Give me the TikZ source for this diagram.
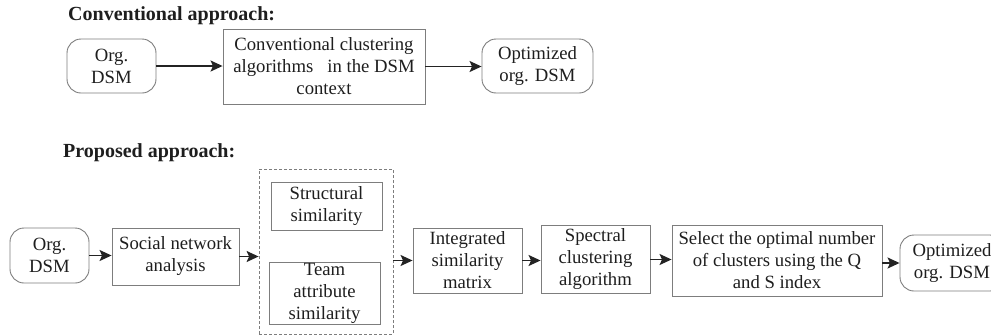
\documentclass[tikz,border=0pt]{standalone}
\usepackage{fontspec}
\setmainfont{Liberation Serif}
\usetikzlibrary{arrows.meta}
\definecolor{boxgray}{RGB}{125,125,125}
\definecolor{txt}{RGB}{30,30,30}
\definecolor{arrcol}{RGB}{35,35,35}
\begin{document}
\begin{tikzpicture}[x=1pt,y=-1pt,
  every node/.style={font=\fontsize{18.7}{22}\selectfont, text=txt, align=center, inner sep=0pt},
  box/.style n args={2}{draw=boxgray, line width=0.9pt, minimum width=#1, minimum height=#2},
  rbox/.style n args={2}{box={#1}{#2}, rounded corners=14pt},
  dbox/.style n args={2}{draw=boxgray, line width=0.8pt, dash pattern=on 3pt off 2pt, minimum width=#1, minimum height=#2},
  ttl/.style={anchor=base west, font=\bfseries\fontsize{20}{22}\selectfont},
  arr/.style={draw=arrcol, line width=1.5pt, -{Stealth[length=12pt,width=11pt,inset=2.5pt]}}
]
\useasboundingbox (0,0) rectangle (991,335);

% Conventional approach
\node[ttl] (title1) at (68,20) {Conventional approach:};
\node[rbox={89}{54}] (t1) at (111.5,66) {Org.\\DSM};
\node[box={202}{75}] (t2) at (324,66.5) {Conventional clustering\\algorithms\ \ \ in the DSM\\context};
\node[rbox={111}{54}] (t3) at (537.5,66) {Optimized\\org. DSM};
\draw[arr] (t1.east) -- (t1.east -| t2.west);
\draw[arr] (t2.east) -- (t2.east -| t3.west);

% Proposed approach
\node[ttl] (title2) at (63,157) {Proposed approach:};
\node[rbox={79}{55}] (b1) at (49.5,255.5) {Org.\\DSM};
\node[box={127}{57}] (b2) at (175.5,256.5) {Social network\\analysis};
\node[dbox={134}{165}] (grp) at (326,251.5) {};
\node[box={111}{48}] (s1) at (326.5,206) {Structural\\similarity};
\node[box={111}{62}] (s2) at (324.5,293) {Team\\attribute\\similarity};
\node[box={109}{65}] (b3) at (467.5,260.5) {Integrated\\similarity\\matrix};
\node[box={109}{68}] (b4) at (595.5,259.5) {Spectral\\clustering\\algorithm};
\node[box={210}{71}] (b5) at (777,260.5) {Select the optimal number\\of clusters using the Q\\and S index};
\node[rbox={104}{56}] (b6) at (952,263) {Optimized\\org. DSM};

\draw[arr] (b1.east) -- (b1.east -| b2.west);
\draw[arr] (b2.east) -- (b2.east -| grp.west);
\draw[arr] (b3.west -| grp.east) -- (b3.west);
\draw[arr] (b3.east) -- (b3.east -| b4.west);
\draw[arr] (b4.east) -- (b4.east -| b5.west);
\draw[arr] (b6.west -| b5.east) -- (b6.west);
\end{tikzpicture}
\end{document}
